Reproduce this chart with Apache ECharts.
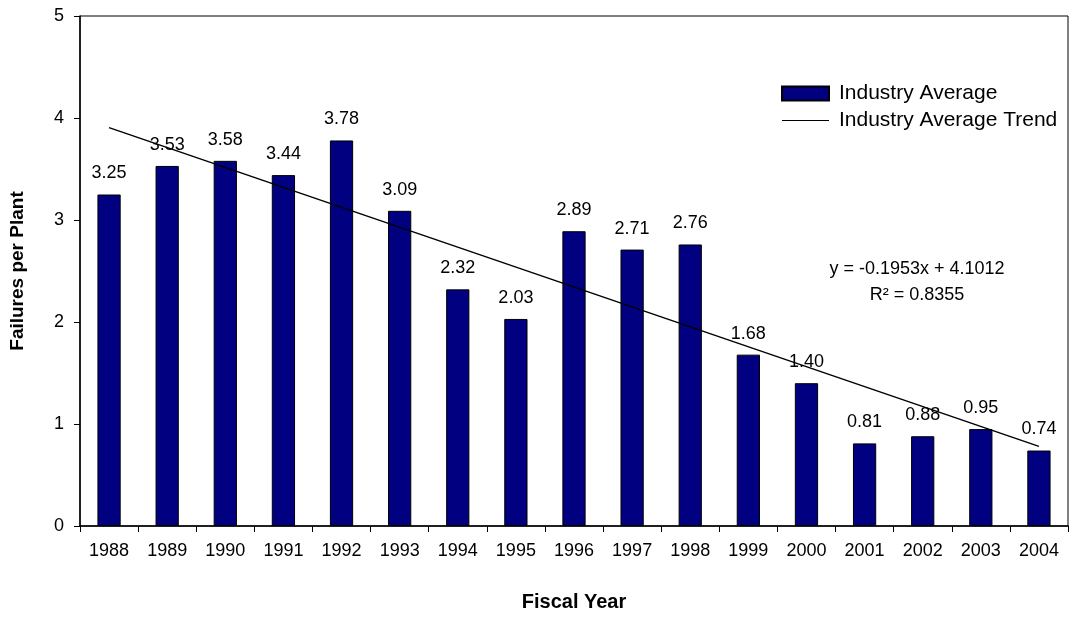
<!DOCTYPE html>
<html>
<head>
<meta charset="utf-8">
<script src="https://cdn.jsdelivr.net/npm/echarts@6/dist/echarts.min.js"></script>
<style>html,body{margin:0;padding:0;background:#fff}#c{width:1069px;height:617px}</style>
</head>
<body>
<div id="c"></div>
<script>
const years = ['1988','1989','1990','1991','1992','1993','1994','1995','1996','1997','1998','1999','2000','2001','2002','2003','2004'];
const industryAverage = [3.25,3.53,3.58,3.44,3.78,3.09,2.32,2.03,2.89,2.71,2.76,1.68,1.40,0.81,0.88,0.95,0.74];
const trendStart = 3.906;
const trendEnd = 0.781;
const equationLines = ['y = -0.1953x + 4.1012', 'R\u00B2 = 0.8355'];
const yTicks = [0,1,2,3,4,5];

const trendData = years.map((y,i)=> i===0 ? trendStart : (i===years.length-1 ? trendEnd : null));
const font = '"Liberation Sans", Arial, sans-serif';

const chart = echarts.init(document.getElementById('c'), null, {renderer:'canvas'});
chart.setOption({
  animation:false,
  backgroundColor:'#fff',
  textStyle:{fontFamily:font},
  grid:{left:70,right:1,top:16,bottom:80,show:true,borderColor:'#000',borderWidth:1,backgroundColor:'transparent'},
  legend:{
    orient:'vertical',left:776,top:78,itemWidth:47,itemHeight:14,itemGap:6,
    textStyle:{fontSize:21,color:'#000',fontFamily:font,lineHeight:20,padding:[0,0,0,5]},
    data:[
      {name:'Industry Average',icon:'rect'},
      {name:'Industry Average Trend',icon:'path://M0,0 L0,0 M0,6.4 L47,6.4 L47,7.6 L0,7.6 Z M47,14 L47,14'}
    ]
  },
  xAxis:{
    type:'category',data:years,
    axisLine:{lineStyle:{color:'#000',width:1.5}},
    axisTick:{show:true,length:6,lineStyle:{color:'#000'}},
    axisLabel:{color:'#000',fontSize:18,margin:16,fontFamily:font},
    name:'Fiscal Year',nameLocation:'middle',nameGap:66,
    nameTextStyle:{fontSize:20,fontWeight:'bold',color:'#000',fontFamily:font}
  },
  yAxis:{
    type:'value',min:0,max:5,interval:1,
    axisLine:{show:true,lineStyle:{color:'#000',width:1.5}},
    axisTick:{show:true,length:6,lineStyle:{color:'#000'}},
    axisLabel:{color:'#000',fontSize:18,margin:16,fontFamily:font,formatter:v=>yTicks.includes(v)?String(v):''},
    splitLine:{show:false},
    name:'Failures per Plant',nameLocation:'middle',nameGap:53,
    nameTextStyle:{fontSize:19,fontWeight:'bold',color:'#000',fontFamily:font}
  },
  series:[
    {
      name:'Industry Average',type:'bar',data:industryAverage,barWidth:'40%',
      itemStyle:{color:'#000080',borderColor:'#000',borderWidth:1},
      label:{show:true,position:'top',distance:12,color:'#000',fontSize:18,fontFamily:font,
        formatter:p=>p.value.toFixed(2)}
    },
    {
      name:'Industry Average Trend',type:'line',data:trendData,connectNulls:true,
      symbol:'none',lineStyle:{color:'#000',width:1.5},itemStyle:{color:'#000'},z:5
    }
  ],
  graphic:[
    {type:'text',x:917,y:269,style:{text:equationLines[0],fill:'#000',font:'18px '+font,textAlign:'center',textVerticalAlign:'middle'}},
    {type:'text',x:917,y:295,style:{text:equationLines[1],fill:'#000',font:'18px '+font,textAlign:'center',textVerticalAlign:'middle'}}
  ]
});
</script>
</body>
</html>
